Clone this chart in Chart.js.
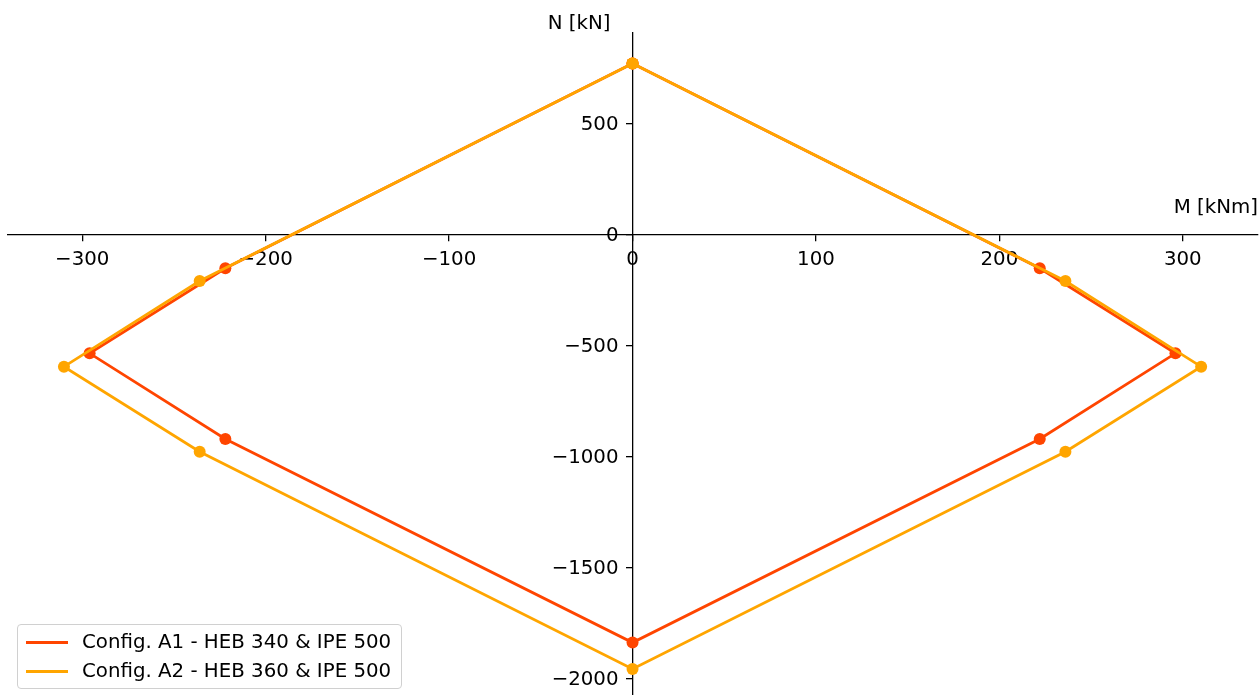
<!DOCTYPE html>
<html>
<head>
<meta charset="utf-8">
<script src="https://cdn.jsdelivr.net/npm/chart.js@4.4.1/dist/chart.umd.min.js"></script>
<style>
  body { margin: 0; background: #fff; overflow: hidden; }
  #wrap { position: relative; width: 1260px; height: 695px; overflow: hidden; }
  #legend {
    position: absolute; left: 17px; top: 624px; width: 383px; height: 63px;
    border: 1px solid #d0d0d0; border-radius: 4px; background: rgba(255,255,255,0.8);
    font-family: "DejaVu Sans", sans-serif; font-size: 19.8px; color: #000;
  }
  .row { position: absolute; left: 0; height: 24px; line-height: 24px; white-space: nowrap; }
  .swatch { position: absolute; left: 8px; top: 11px; width: 42px; height: 3px; }
  .lbl { position: absolute; left: 64px; top: 0; }
</style>
</head>
<body>
<div id="wrap">
  <canvas id="myChart" width="1264" height="701"></canvas>
  <div id="legend"></div>
</div>
<script>
// interaction diagram M-N
var labels = ['Config. A1 - HEB 340 & IPE 500', 'Config. A2 - HEB 360 & IPE 500'];
var colors = ['#ff4500', '#ffa500'];
var mA1 = [0, -222, -296, -222, 0, 222, 296, 222, 0];
var nA1 = [773, -150, -533, -919, -1836, -919, -533, -150, 773];
var mA2 = [0, -236, -310, -236, 0, 236, 310, 236, 0];
var nA2 = [773, -207, -593, -976, -1955, -976, -593, -207, 773];
var xTicks = [-300, -200, -100, 0, 100, 200, 300];
var yTicks = [-2000, -1500, -1000, -500, 0, 500];
var xTitle = 'M [kNm]';
var yTitle = 'N [kN]';

function toPoints(m, n) {
  var pts = [];
  for (var i = 0; i < m.length; i++) {
    pts.push({x: m[i], y: n[i]});
  }
  return pts;
}

function fmt(v) {
  return v < 0 ? '\u2212' + Math.abs(v) : String(v);
}

var fontSize = 19.8;
var font = {family: 'DejaVu Sans', size: fontSize};

// titles + y tick labels (chart.js puts y labels right on the axis line)
var axisText = {
  id: 'axisText',
  afterDraw: function(chart) {
    var ctx = chart.ctx;
    var xs = chart.scales.x, ys = chart.scales.y;
    var x0 = xs.getPixelForValue(0);
    ctx.save();
    ctx.fillStyle = '#000';
    ctx.font = fontSize + 'px "DejaVu Sans"';
    ctx.textBaseline = 'middle';
    ctx.textAlign = 'right';
    for (var i = 0; i < yTicks.length; i++) {
      ctx.fillText(fmt(yTicks[i]), x0 - 14, ys.getPixelForValue(yTicks[i]) + 1);
    }
    ctx.fillText(xTitle, xs.right, ys.getPixelForValue(0) - 27);
    ctx.fillText(yTitle, x0 - 22, chart.chartArea.top - 9);
    ctx.restore();
  }
};

var ctx = document.getElementById('myChart').getContext('2d');
var chart = new Chart(ctx, {
  type: 'scatter',
  data: {
    datasets: [
      {
        label: labels[0],
        data: toPoints(mA1, nA1),
        order: 1,
        showLine: true,
        borderColor: colors[0],
        backgroundColor: colors[0],
        borderWidth: 2.8,
        pointRadius: 6,
        pointBorderWidth: 0,
        pointBackgroundColor: colors[0],
        tension: 0
      },
      {
        label: labels[1],
        data: toPoints(mA2, nA2),
        order: 0,
        showLine: true,
        borderColor: colors[1],
        backgroundColor: colors[1],
        borderWidth: 2.8,
        pointRadius: 6,
        pointBorderWidth: 0,
        pointBackgroundColor: colors[1],
        tension: 0
      }
    ]
  },
  options: {
    responsive: false,
    animation: false,
    layout: {padding: {left: 8, right: 2, top: 33, bottom: 0}},
    plugins: {
      legend: {display: false},
      tooltip: {enabled: false}
    },
    scales: {
      x: {
        type: 'linear',
        position: {y: 0},
        min: -340.5,
        max: 341,
        afterBuildTicks: function(scale) {
          scale.ticks = xTicks.map(function(v) { return {value: v}; });
        },
        grid: {drawOnChartArea: false, drawTicks: true, tickLength: 6, color: '#000', lineWidth: 1.3},
        border: {display: true, color: '#000', width: 1.3},
        ticks: {color: '#000', font: font, padding: 7, maxRotation: 0, callback: fmt}
      },
      y: {
        type: 'linear',
        position: {x: 0},
        min: -2072,
        max: 910,
        afterBuildTicks: function(scale) {
          scale.ticks = yTicks.map(function(v) { return {value: v}; });
        },
        grid: {drawOnChartArea: false, drawTicks: true, tickLength: 6, color: '#000', lineWidth: 1.3},
        border: {display: true, color: '#000', width: 1.3},
        ticks: {display: false}
      }
    }
  },
  plugins: [axisText]
});

var leg = document.getElementById('legend');
for (var i = 0; i < labels.length; i++) {
  var row = document.createElement('div');
  row.className = 'row';
  row.style.top = (5 + i * 29) + 'px';
  row.style.width = '100%';
  var sw = document.createElement('div');
  sw.className = 'swatch';
  sw.style.background = colors[i];
  var tx = document.createElement('span');
  tx.className = 'lbl';
  tx.textContent = labels[i];
  row.appendChild(sw);
  row.appendChild(tx);
  leg.appendChild(row);
}
</script>
</body>
</html>
